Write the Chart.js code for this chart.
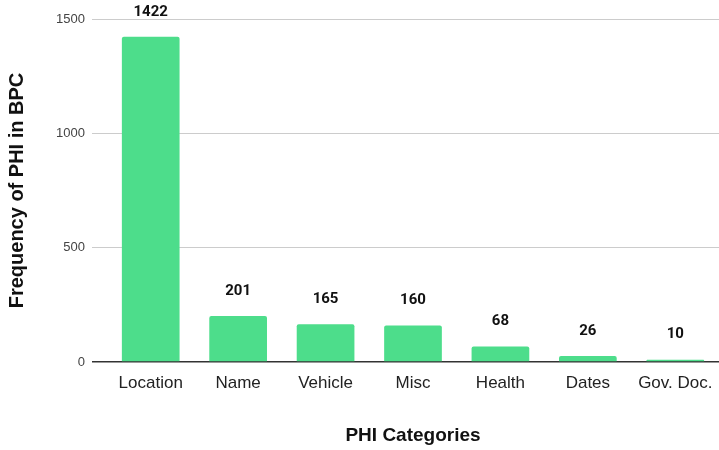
<!DOCTYPE html>
<html>
<head>
<meta charset="utf-8">
<script src="https://cdn.jsdelivr.net/npm/chart.js@4.4.1/dist/chart.umd.min.js"></script>
<style>
  html, body { margin: 0; padding: 0; background: #fff; }
  #wrap { width: 719px; height: 450px; }
</style>
</head>
<body>
<div id="wrap"><canvas id="phiChart" width="719" height="450"></canvas></div>
<script>
'use strict';

// ---- Data ----
const categories = ['Location', 'Name', 'Vehicle', 'Misc', 'Health', 'Dates', 'Gov. Doc.'];
const frequencies = [1422, 201, 165, 160, 68, 26, 10];
const yTicks = [0, 500, 1000, 1500];

const BAR_COLOR = '#4ddd8b';
const FONT = "'Liberation Sans', Arial, sans-serif";

// Bold value labels above each bar
const valueLabels = {
  id: 'valueLabels',
  afterDatasetsDraw(chart) {
    const ctx = chart.ctx;
    const meta = chart.getDatasetMeta(0);
    ctx.save();
    ctx.font = "bold 15px Roboto, 'Liberation Sans', sans-serif";
    ctx.fillStyle = '#111';
    ctx.textAlign = 'center';
    ctx.textBaseline = 'middle';
    meta.data.forEach((bar, i) => {
      ctx.fillText(String(frequencies[i]), bar.x, bar.y - 25);
    });
    ctx.restore();
  }
};

const ctx = document.getElementById('phiChart').getContext('2d');
new Chart(ctx, {
  type: 'bar',
  data: {
    labels: categories,
    datasets: [{
      data: frequencies,
      backgroundColor: BAR_COLOR,
      borderRadius: 2,
      borderSkipped: 'bottom',
      barPercentage: 0.66,
      categoryPercentage: 1.0
    }]
  },
  options: {
    responsive: false,
    animation: false,
    layout: { padding: { top: 19, right: -2, bottom: 0, left: 0 } },
    plugins: {
      legend: { display: false },
      tooltip: { enabled: false }
    },
    scales: {
      x: {
        grid: { display: false, drawTicks: false },
        border: { display: false },
        ticks: {
          color: '#222',
          padding: 11,
          font: { family: FONT, size: 17 }
        },
        title: {
          display: true,
          text: 'PHI Categories',
          color: '#111',
          padding: { top: 22, bottom: 3 },
          font: { family: FONT, size: 19, weight: 'bold' }
        },
        afterFit: axis => {
          axis.height = 450 - 362;
          axis.paddingLeft = 0;
          axis.paddingRight = 0;
        }
      },
      y: {
        min: 0,
        max: 1500,
        afterBuildTicks: axis => { axis.ticks = yTicks.map(v => ({ value: v })); },
        afterFit: axis => { axis.width = 107; },
        grid: {
          color: c => (c.tick && c.tick.value === 0 ? '#333' : '#cccccc'),
          lineWidth: c => (c.tick && c.tick.value === 0 ? 1.5 : 1),
          tickLength: 15,
          drawTicks: true
        },
        border: { display: false },
        ticks: {
          color: '#444',
          padding: 7,
          callback: v => String(v),
          font: { family: FONT, size: 13 }
        },
        title: {
          display: true,
          text: 'Frequency of PHI in BPC',
          color: '#111',
          padding: { top: 5, bottom: 0 },
          font: { family: FONT, size: 20, weight: 'bold' }
        }
      }
    }
  },
  plugins: [valueLabels]
});
</script>
</body>
</html>
